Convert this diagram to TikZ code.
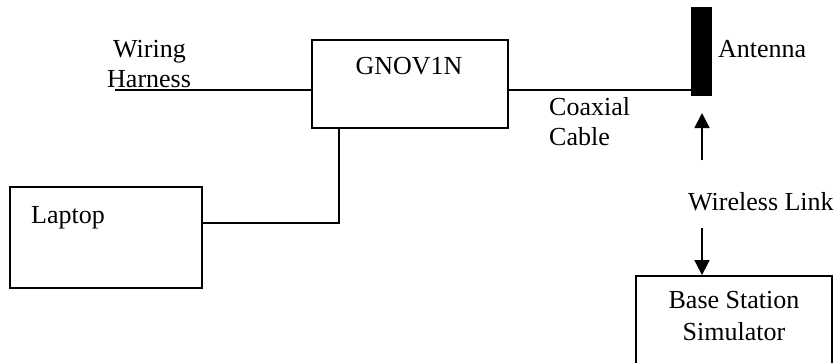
\documentclass[tikz,border=0pt]{standalone}
\usepackage{fontspec}
\setmainfont{Liberation Serif}
\usetikzlibrary{arrows.meta}
\begin{document}
\begin{tikzpicture}[x=1pt,y=-1pt,
  lbl/.style={font=\fontsize{26}{30}\selectfont, inner sep=0pt, anchor=base west},
  boxx/.style={draw, line width=1.8pt, inner sep=0pt},
  wire/.style={line width=1.8pt},
  arr/.style={line width=1.8pt, -{Triangle[length=15pt,width=15pt]}}]
\useasboundingbox (0,0) rectangle (839,362);
% boxes
\node[boxx, minimum width=196pt, minimum height=88pt] (gn) at (410,84) {};
\node[boxx, minimum width=192pt, minimum height=101pt] (lap) at (106,237.5) {};
\node[boxx, minimum width=196pt, minimum height=104pt] (bs) at (734,328) {};
\node[fill=black, inner sep=0pt, minimum width=21pt, minimum height=89pt] (ant) at (701.5,51.5) {};
% texts
\node[lbl] (t1) at (113,57) {Wiring};
\node[lbl] (t2) at (107,87) {Harness};
\node[lbl, anchor=base] (t3) at (409,74) {GNOV1N};
\node[lbl] (t4) at (718,57) {Antenna};
\node[lbl] (t5) at (549,115) {Coaxial};
\node[lbl] (t6) at (549,145) {Cable};
\node[lbl] (t7) at (31,223) {Laptop};
\node[lbl] (t8) at (688,210) {Wireless Link};
\node[lbl, anchor=base] (t9) at (734,308) {Base Station};
\node[lbl, anchor=base] (t10) at (734,340) {Simulator};
% connectors
\coordinate (wh) at (115,90);
\draw[wire] (wh) -- (gn.west |- wh);
\draw[wire] (gn.east |- wh) -- (ant.west |- wh);
\draw[wire] (gn.south -| 339,0) -- (339,223) -- (lap.east |- 0,223);
\coordinate (upstart) at (702,160);
\coordinate (upend) at (702,113);
\coordinate (dnstart) at (702,228);
\draw[arr] (upstart) -- (upend);
\draw[arr] (dnstart) -- (bs.north -| dnstart);
\end{tikzpicture}
\end{document}
